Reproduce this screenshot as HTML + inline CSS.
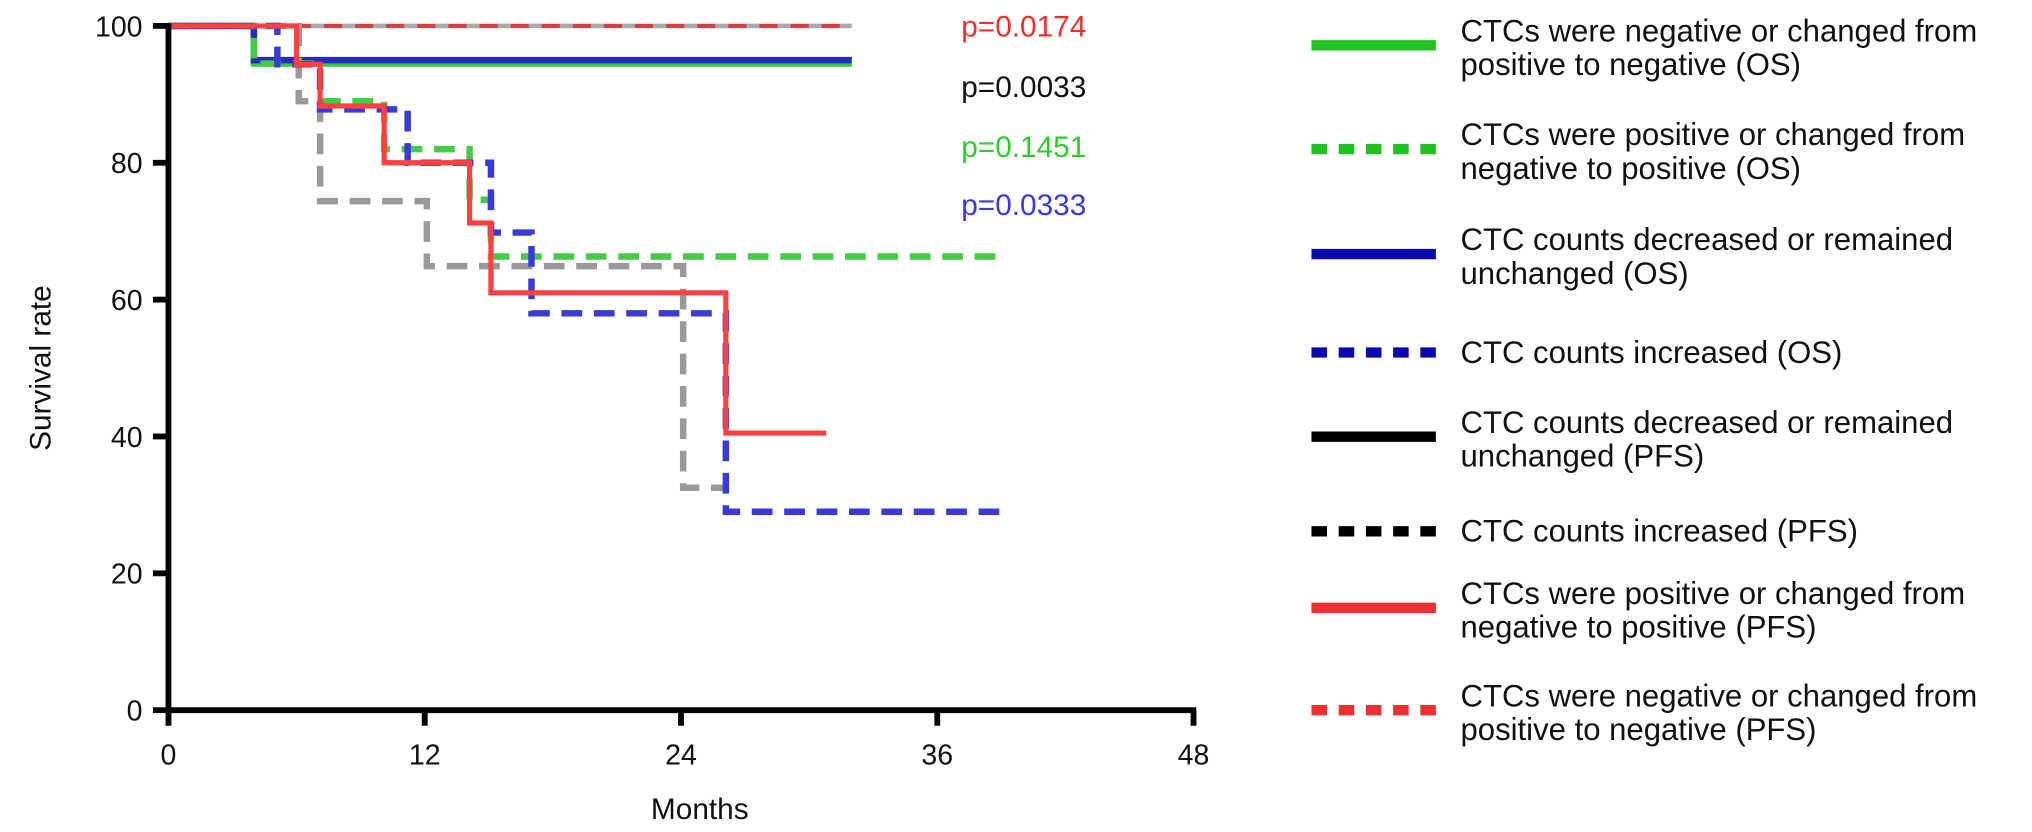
<!DOCTYPE html>
<html><head><meta charset="utf-8"><style>
html,body{margin:0;padding:0;background:#fff;}
svg{display:block;font-family:"Liberation Sans",Arial,sans-serif;}
</style></head><body>
<svg id="chart" width="2032" height="832" viewBox="0 0 1568 642" xmlns="http://www.w3.org/2000/svg">
<g id="plot"></g>
<g id="legend"></g>
</svg>
<script>
const xTicks = [0, 12, 24, 36, 48];
const yTicks = [0, 20, 40, 60, 80, 100];
const pLabels = ["p=0.0174", "p=0.0033", "p=0.1451", "p=0.0333"];
const pColors = ["#f03030", "#111111", "#2ecc2e", "#3a3ae0"];
const grayTopT = [0]; const grayTopV = [100]; const grayTopEnd = 32;
const redDashT = [0]; const redDashV = [100]; const redDashEnd = 32;
const greenT = [0, 4]; const greenV = [100, 94.5]; const greenEnd = 32;
const blueT = [0, 4]; const blueV = [100, 95]; const blueEnd = 32;
const grayT = [0, 6.1, 7.1, 12.1, 24.1]; const grayV = [100, 89, 74.4, 64.9, 32.5]; const grayEnd = 26;
const greenDT = [0, 4, 7.1, 10.1, 14.1, 15.1]; const greenDV = [100, 94.5, 89, 82, 74.6, 66.3]; const greenDEnd = 39;
const blueDT = [0, 5.1, 7.1, 11.2, 15.1, 17, 26.1]; const blueDV = [100, 94.4, 87.8, 80, 69.8, 58, 29]; const blueDEnd = 39;
const redT = [0, 6.0, 7.1, 10.1, 14.1, 15.1, 26.1]; const redV = [100, 94.4, 88.3, 80, 71.2, 61, 40.5]; const redEnd = 30.8;
const legendLabels = [
 ["CTCs were negative or changed from","positive to negative (OS)"],
 ["CTCs were positive or changed from","negative to positive (OS)"],
 ["CTC counts decreased or remained","unchanged (OS)"],
 ["CTC counts increased (OS)"],
 ["CTC counts decreased or remained","unchanged (PFS)"],
 ["CTC counts increased (PFS)"],
 ["CTCs were positive or changed from","negative to positive (PFS)"],
 ["CTCs were negative or changed from","positive to negative (PFS)"]
];
const legendColors = ["#22c022","#22c022","#0a0ab0","#0a0ab0","#000000","#000000","#f03030","#f03030"];
const legendDashed = [false,true,false,true,false,true,false,true];

const NS = "http://www.w3.org/2000/svg";
const X0 = 130, X1 = 921, Y0 = 548, Y1 = 20;
function xs(m){ return X0 + (X1-X0)*m/48; }
function ys(v){ return Y0 - (Y0-Y1)*v/100; }
function mk(tag, attrs, parent){ const e=document.createElementNS(NS,tag); for(const k in attrs) e.setAttribute(k,attrs[k]); parent.appendChild(e); return e; }
const plot = document.getElementById('plot');
const legend = document.getElementById('legend');

function stepPath(T,V,end){
  let d = "M"+xs(T[0])+","+ys(V[0]);
  for(let i=1;i<T.length;i++){ d += " H"+xs(T[i])+" V"+ys(V[i]); }
  d += " H"+xs(end);
  return d;
}
function drawSeries(T,V,end,color,dash,w,name){
  const p = mk('path',{d:stepPath(T,V,end),fill:'none',stroke:color,'stroke-width':w},plot);
  if(dash) p.setAttribute('stroke-dasharray',dash);
  
  
}
drawSeries(grayTopT,grayTopV,grayTopEnd,"#aaaaaa",null,3.5,'series-pfs-decreased-top');
drawSeries(redDashT,redDashV,redDashEnd,"#d04040","14 10",3,'series-pfs-negative');
drawSeries(greenT,greenV,greenEnd,"#33cc33",null,5,'series-os-negative');
drawSeries(blueT,blueV,blueEnd,"#2a2ac0",null,5,'series-os-decreased');
drawSeries(grayT,grayV,grayEnd,"#999999","16 9",5,'series-pfs-increased');
drawSeries(greenDT,greenDV,greenDEnd,"#44cc44","16 9",5,'series-os-positive');
drawSeries(blueDT,blueDV,blueDEnd,"#3a3ad8","16 9",5,'series-os-increased');
drawSeries(redT,redV,redEnd,"#ff4040",null,4,'series-pfs-positive');

let ax = mk('line',{x1:X0,y1:Y1-2,x2:X0,y2:Y0+2,stroke:'#000','stroke-width':4.5},plot);
 
ax = mk('line',{x1:X0-2,y1:Y0,x2:X1+2,y2:Y0,stroke:'#000','stroke-width':4.5},plot);
 
yTicks.forEach(v=>{
  mk('line',{x1:X0-12,y1:ys(v),x2:X0,y2:ys(v),stroke:'#000','stroke-width':4.5},plot);
  const t = mk('text',{x:X0-20,y:ys(v)+8,'text-anchor':'end','font-size':22,fill:'#111'},plot);
  t.textContent = v;
   
});
xTicks.forEach(m=>{
  mk('line',{x1:xs(m),y1:Y0,x2:xs(m),y2:Y0+12,stroke:'#000','stroke-width':4.5},plot);
  const t = mk('text',{x:xs(m),y:590,'text-anchor':'middle','font-size':22,fill:'#111'},plot);
  t.textContent = m;
   
});
let t = mk('text',{x:540,y:632,'text-anchor':'middle','font-size':23,fill:'#111'},plot);
t.textContent = "Months";
 
t = mk('text',{x:0,y:0,transform:'translate(39,284) rotate(-90)','text-anchor':'middle','font-size':23,fill:'#111'},plot);
t.textContent = "Survival rate";
 
const pY = [28, 75, 121, 166];
pLabels.forEach((s,i)=>{
  const e = mk('text',{x:790,y:pY[i],'text-anchor':'middle','font-size':23,fill:pColors[i]},plot);
  e.textContent = s;
   
});
const legY = [35, 115, 196, 272, 337, 410, 469, 548];
legendLabels.forEach((lines,i)=>{
  const g = mk('g',{},legend);
  
  
  const ln = mk('line',{x1:1012,y1:legY[i],x2:1108,y2:legY[i],stroke:legendColors[i],'stroke-width':8},g);
  if(legendDashed[i]) ln.setAttribute('stroke-dasharray','12 9');
  const y0 = lines.length===2 ? legY[i]-3 : legY[i]+8;
  lines.forEach((s,j)=>{
    const e = mk('text',{x:1127,y:y0+j*26,'font-size':24,fill:'#111'},g);
    e.textContent = s;
  });
});
</script>
</body></html>
